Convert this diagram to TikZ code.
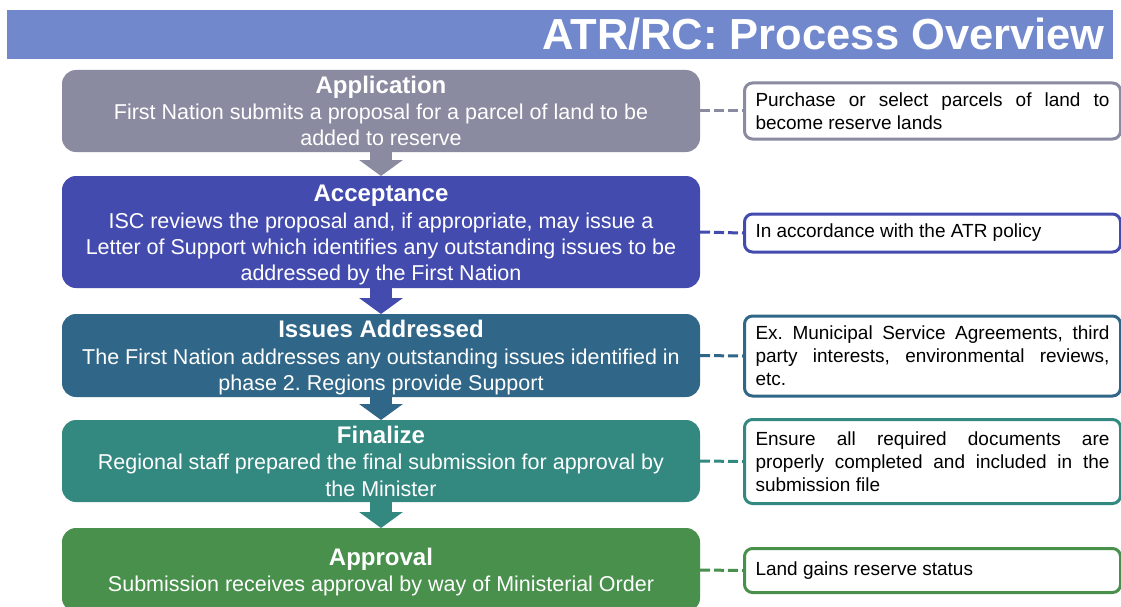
\documentclass[tikz,border=0pt]{standalone}
\usepackage{fontspec}
\setmainfont{Liberation Sans}
\usetikzlibrary{arrows.meta}
\definecolor{titlebg}{RGB}{113,136,204}
\definecolor{cA}{RGB}{138,139,160}
\definecolor{cB}{RGB}{68,75,175}
\definecolor{cC}{RGB}{48,102,135}
\definecolor{cD}{RGB}{51,136,128}
\definecolor{cE}{RGB}{72,144,76}
\newcommand{\boxtitle}[1]{{\bfseries\fontsize{24}{26.3}\selectfont #1}}
\frenchspacing
\begin{document}
\begin{tikzpicture}[x=1pt,y=-1pt,
  mainbox/.style={fill=#1, rounded corners=14pt, minimum width=638pt,
    inner sep=0pt, outer sep=0pt},
  boxtext/.style={text=white, align=center, inner sep=0pt,
    font=\fontsize{21.5}{26.3}\selectfont},
  sidebox/.style={draw=#1, line width=3pt, fill=white, rounded corners=8pt,
    minimum width=376pt, text width=354pt, inner xsep=11pt, inner ysep=2pt,
    align=justify, text=black, font=\fontsize{19}{23}\selectfont},
  link/.style={draw=#1, line width=3pt, dash pattern=on 10pt off 4pt},
  flow/.style={draw=#1, line width=22pt, -{Triangle[width=43pt,length=16pt]}}]
\useasboundingbox (0,0) rectangle (1121,607);
\fill[white] (0,0) rectangle (1121,607);
% title bar
\fill[titlebg] (7,10) rectangle (1113,59);
\node[anchor=base east, inner sep=0pt, text=white, font=\bfseries\fontsize{43.5}{43.5}\selectfont]
  (title) at (1105,50) {ATR/RC: Process Overview};
% main boxes
\node[mainbox=cA, minimum height=82pt] (A) at (381,111) {};
\node[mainbox=cB, minimum height=112pt] (B) at (381,232) {};
\node[mainbox=cC, minimum height=83pt] (C) at (381,355.5) {};
\node[mainbox=cD, minimum height=82pt] (D) at (381,461) {};
\node[mainbox=cE, minimum height=84pt] (E) at (381,570) {};
\node[boxtext] (At) at (381,111)
  {\boxtitle{Application}\\First Nation submits a proposal for a parcel of land to be\\added to reserve};
\node[boxtext] (Bt) at (381,235.3)
  {\boxtitle{Acceptance}\\ISC reviews the proposal and, if appropriate, may issue a\\Letter of Support which identifies any outstanding issues to be\\addressed by the First Nation};
\node[boxtext] (Ct) at (381,357.7)
  {\boxtitle{Issues Addressed}\\The First Nation addresses any outstanding issues identified in\\phase 2. Regions provide Support};
\node[boxtext] (Dt) at (381,461.2)
  {\boxtitle{Finalize}\\Regional staff prepared the final submission for approval by\\the Minister};
\node[boxtext] (Et) at (381,571.9)
  {\boxtitle{Approval}\\Submission receives approval by way of Ministerial Order};
% flow arrows
\draw[flow=cA] (A.south) -- (B.north);
\draw[flow=cB] (B.south) -- (C.north);
\draw[flow=cC] (C.south) -- (D.north);
\draw[flow=cD] (D.south) -- (E.north);
% side boxes
\node[sidebox=cA, minimum height=56pt] (SA) at (932.5,111)
  {Purchase or select parcels of land to\linebreak become reserve lands};
\node[sidebox=cB, minimum height=38pt] (SB) at (932.5,233)
  {In accordance with the ATR policy};
\node[sidebox=cC, minimum height=80pt] (SC) at (932.5,356)
  {Ex. Municipal Service Agreements, third\linebreak party interests, environmental reviews,\linebreak etc.};
\node[sidebox=cD, minimum height=84pt] (SD) at (932.5,461.5)
  {Ensure all required documents are\linebreak properly completed and included in the\linebreak submission file};
\node[sidebox=cE, minimum height=44pt] (SE) at (932.5,570.5)
  {Land gains reserve status};
% dashed links
\draw[link=cA] (A.east) -- (SA.west);
\draw[link=cB] (B.east) -- (SB.west);
\draw[link=cC] (C.east) -- (SC.west);
\draw[link=cD] (D.east) -- (SD.west);
\draw[link=cE] (E.east) -- (SE.west);
\end{tikzpicture}
\end{document}
